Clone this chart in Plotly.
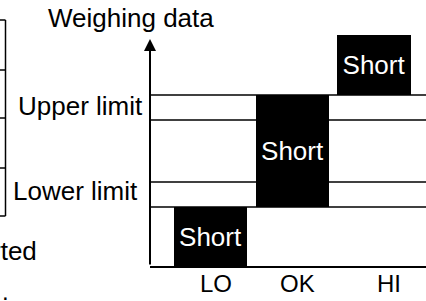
import plotly.graph_objects as go

# ---- data (units: arbitrary "weighing" scale) ----
categories = ["LO", "OK", "HI"]
bar_base = [0, 59, 171]          # bottom of each black "Short" block
bar_top = [59, 171, 231]         # top of each black "Short" block
bar_text = ["Short", "Short", "Short"]
upper_limit_band = [146, 171]    # two lines of the upper limit
lower_limit_band = [59, 84]      # two lines of the lower limit
y_axis_top = 227                 # tip of the y-axis arrow
band_labels = ["Upper limit", "Lower limit"]
y_title = "Weighing data"

FONT = "Liberation Sans, Arial, Helvetica, sans-serif"
W, H = 426, 301
ML, MB = 150, 35
PW, PH = W - ML, H - MB


def X(px):
    return (px - ML) / PW


def Y(py):
    return (PH - py) / PH


fig = go.Figure()
fig.add_trace(go.Bar(
    x=list(range(len(categories))),
    base=bar_base,
    y=[t - b for t, b in zip(bar_top, bar_base)],
    width=0.896,
    marker=dict(color="black", line=dict(width=0)),
    text=bar_text,
    textposition="inside",
    insidetextanchor="middle",
    textangle=0,
    constraintext="none",
    textfont=dict(color="white", size=26, family=FONT),
    hoverinfo="skip",
    cliponaxis=False,
))

shapes = []
for v in upper_limit_band + lower_limit_band:
    shapes.append(dict(type="line", xref="paper", yref="y", x0=0, x1=1, y0=v, y1=v,
                       line=dict(color="black", width=1.5), layer="below"))

# partial bracket at the left edge
shapes.append(dict(type="line", xref="paper", yref="paper", x0=X(5.5), x1=X(5.5),
                   y0=Y(20), y1=Y(216), line=dict(color="black", width=1.5)))
for py in [20, 70, 118, 168, 216]:
    shapes.append(dict(type="line", xref="paper", yref="paper", x0=X(0), x1=X(5.5),
                       y0=Y(py), y1=Y(py), line=dict(color="black", width=1.5)))

ann = []
# y axis with arrow
ann.append(dict(xref="paper", yref="y", x=0, y=y_axis_top, ax=0, ay=y_axis_top,
                axref="pixel", ayref="pixel", text="", showarrow=True, arrowhead=2,
                arrowwidth=2, arrowsize=1.2, arrowcolor="black", standoff=0, startstandoff=0))
ann.append(dict(xref="paper", yref="paper", x=X(46), y=Y(18), xanchor="left", yanchor="middle",
                text=y_title, showarrow=False, font=dict(size=26, family=FONT, color="black")))
ann.append(dict(xref="paper", yref="y", x=X(145), y=sum(upper_limit_band) / 2, yshift=2,
                xanchor="right", yanchor="middle", text=band_labels[0], showarrow=False,
                font=dict(size=26, family=FONT, color="black")))
ann.append(dict(xref="paper", yref="y", x=X(140), y=sum(lower_limit_band) / 2, yshift=4,
                xanchor="right", yanchor="middle", text=band_labels[1], showarrow=False,
                font=dict(size=26, family=FONT, color="black")))
ann.append(dict(xref="paper", yref="paper", x=X(39), y=Y(251), xanchor="right", yanchor="middle",
                text="rted", showarrow=False, font=dict(size=26, family=FONT, color="black")))
ann.append(dict(xref="paper", yref="paper", x=X(0), y=Y(291), xanchor="left", yanchor="middle",
                text=".", showarrow=False, font=dict(size=24, family=FONT, color="black")))
# category labels
for i, (lab, dx) in enumerate(zip(categories, [5, 5, 15])):
    ann.append(dict(xref="x", yref="paper", x=i, y=Y(283), xshift=dx, xanchor="center",
                    yanchor="middle", text=lab, showarrow=False,
                    font=dict(size=24, family=FONT, color="black")))

fig.update_layout(
    width=W, height=H,
    margin=dict(l=ML, r=0, t=0, b=MB, pad=0),
    paper_bgcolor="white", plot_bgcolor="white",
    showlegend=False,
    xaxis=dict(range=[-0.748, 2.638], showgrid=False, zeroline=False, showticklabels=False,
               ticks="", showline=True, linecolor="black", linewidth=2, fixedrange=True),
    yaxis=dict(range=[0, PH], showgrid=False, zeroline=False, showticklabels=False,
               ticks="", showline=False, fixedrange=True),
    shapes=shapes,
    annotations=ann,
    bargap=0,
)

fig.write_html("out.html", config={"displayModeBar": False},
               post_script="document.body.style.margin='0px';document.body.style.overflow='hidden';")
